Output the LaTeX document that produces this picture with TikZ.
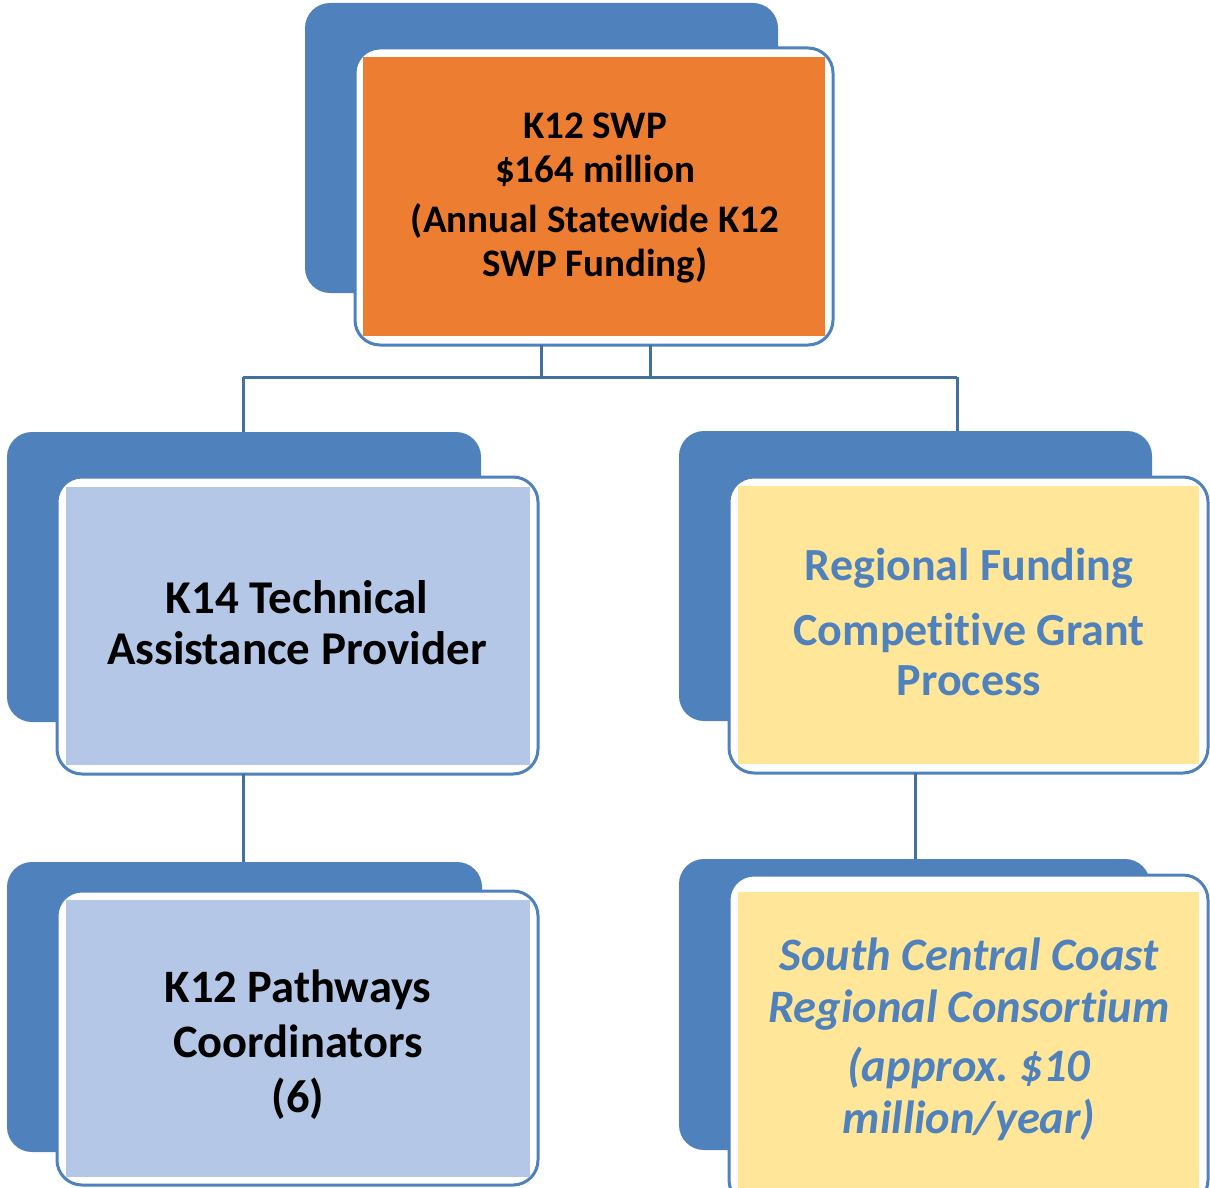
\documentclass[tikz,border=0pt]{standalone}
\usepackage{fontspec}
\setmainfont{Carlito}[Ligatures=NoCommon]
\frenchspacing
\definecolor{backblue}{HTML}{4F81BD}
\definecolor{linkblue}{HTML}{41719C}
\definecolor{orangefill}{HTML}{ED7D31}
\definecolor{bluefill}{HTML}{B4C7E7}
\definecolor{yellowfill}{HTML}{FFE699}
\definecolor{textblue}{HTML}{4F81BD}
\begin{document}
\begin{tikzpicture}[x=1pt,y=-1pt,
  backbox/.style={rectangle, rounded corners=25pt, fill=backblue, draw=none,
    inner sep=0pt, outer sep=0pt, anchor=north west},
  framebox/.style={rectangle, rounded corners=25pt, fill=white, draw=backblue,
    line width=3pt, inner sep=0pt, outer sep=0pt, anchor=north west},
  fillbox/.style={rectangle, draw=none, inner sep=0pt, outer sep=0pt, anchor=north west},
  label/.style={align=center, inner sep=0pt, anchor=base, font=\bfseries},
  conn/.style={draw=linkblue, line width=3pt}]
\useasboundingbox (0,0) rectangle (1210,1188);
\clip (0,0) rectangle (1210,1188);

% ---- top: statewide funding ----
\node[backbox, minimum width=473pt, minimum height=290pt] (topback) at (305,3) {};
\node[framebox, minimum width=478pt, minimum height=297pt] (topframe) at (355,48) {};
\node[fillbox, fill=orangefill, minimum width=462pt, minimum height=279pt] (topfill) at (363,57) {};
\node[label, font=\bfseries\fontsize{39pt}{44pt}\selectfont] (toptext) at (595,276)
  {K12 SWP\\\$164 million\\[6pt](Annual Statewide K12\\SWP Funding)};

% ---- middle left: K14 technical assistance ----
\node[backbox, minimum width=474pt, minimum height=290pt] (k14back) at (7,432) {};
\node[framebox, minimum width=481pt, minimum height=297pt] (k14frame) at (57,477) {};
\node[fillbox, fill=bluefill, minimum width=464pt, minimum height=278pt] (k14fill) at (66,487) {};
\node[label, font=\bfseries\fontsize{47pt}{51pt}\selectfont] (k14text) at (297,664)
  {K14 Technical\\Assistance Provider};

% ---- middle right: regional funding ----
\node[backbox, minimum width=473pt, minimum height=290pt] (regback) at (679,431) {};
\node[framebox, minimum width=479pt, minimum height=296pt] (regframe) at (729,477) {};
\node[fillbox, fill=yellowfill, minimum width=461pt, minimum height=278pt] (regfill) at (738,486) {};
\node[label, text=textblue, font=\bfseries\fontsize{46pt}{50pt}\selectfont] (regtext) at (969,695)
  {Regional Funding\\[15pt]Competitive Grant\\Process};

% ---- bottom left: pathways coordinators ----
\node[backbox, minimum width=475pt, minimum height=290pt] (k12back) at (7,862) {};
\node[framebox, minimum width=481pt, minimum height=294pt] (k12frame) at (57,891) {};
\node[fillbox, fill=bluefill, minimum width=464pt, minimum height=277pt] (k12fill) at (66,900) {};
\node[label, font=\bfseries\fontsize{46.5pt}{55pt}\selectfont] (k12text) at (298,1112)
  {K12 Pathways\\Coordinators\\(6)};

% ---- bottom right: regional consortium ----
\node[backbox, minimum width=471pt, minimum height=291pt] (sccback) at (679,859) {};
\node[framebox, minimum width=479pt, minimum height=330pt] (sccframe) at (729,875) {};
\node[fillbox, fill=yellowfill, minimum width=461pt, minimum height=300pt] (sccfill) at (738,892) {};
\node[label, text=textblue, font=\bfseries\itshape\fontsize{46.5pt}{52pt}\selectfont] (scctext) at (969,1133)
  {South Central Coast\\Regional Consortium\\[7pt](approx.\ \$10\\million/year)};

% ---- connectors ----
\coordinate (busL) at (243,377);
\coordinate (busR) at (957,377);
\coordinate (dropR) at (915,800);
\draw[conn] ([xshift=-53pt]topframe.south) -- ([xshift=-53pt]topframe.south |- busL);
\draw[conn] ([xshift=56pt]topframe.south) -- ([xshift=56pt]topframe.south |- busL);
\draw[conn] (busL) -- (busR);
\draw[conn] (busL) -- (busL |- k14back.north);
\draw[conn] (busR) -- (busR |- regback.north);
\draw[conn] (busL |- k14frame.south) -- (busL |- k12back.north);
\draw[conn] (dropR |- regframe.south) -- (dropR |- sccback.north);
\end{tikzpicture}
\end{document}
